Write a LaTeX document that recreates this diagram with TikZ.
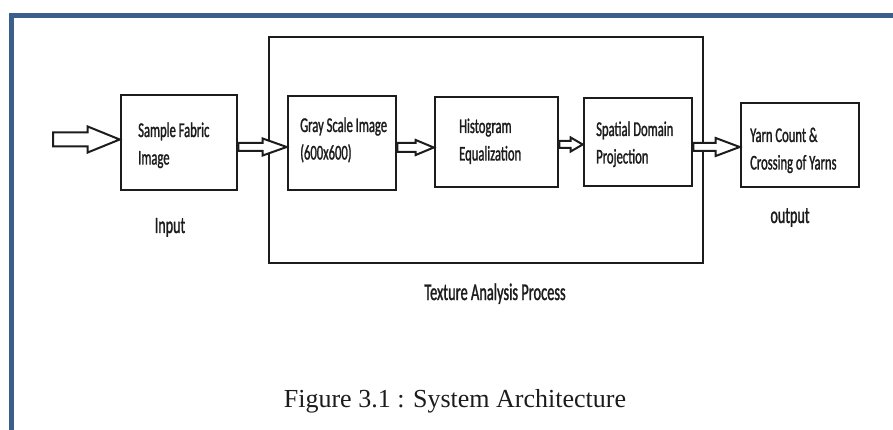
\documentclass[tikz,border=0pt]{standalone}
\usepackage{fontspec}
\setmainfont{Liberation Serif}
\newfontfamily\boxfont[FakeStretch=0.6,FakeBold=1.2]{Carlito}
\usetikzlibrary{calc}
\definecolor{frameblue}{RGB}{59,94,140}
\definecolor{ink}{RGB}{28,28,28}
\newcommand{\harrow}[5]{%
  \draw[harr] let \p1=(#1), \p2=(#2) in
    (\x1,\y1+#3) -- (\x2-#5,\y1+#3) -- (\x2-#5,\y1+#4) -- (\x2,\y1)
    -- (\x2-#5,\y1-#4) -- (\x2-#5,\y1-#3) -- (\x1,\y1-#3) -- cycle;}
\begin{document}
\begin{tikzpicture}[x=1pt,y=-1pt,
  box/.style={draw=ink, line width=2.6pt, fill=white, inner sep=0pt},
  btxt/.style={font=\boxfont\fontsize{21}{27.5}\selectfont, text=ink, inner sep=0pt, anchor=base west},
  lbl/.style={font=\boxfont\fontsize{23.5}{28}\selectfont, text=ink, anchor=base, inner sep=0pt},
  harr/.style={draw=ink, line width=2pt, fill=white, line join=miter},
  frame/.style={draw=frameblue, line width=5pt, line join=miter}]
\useasboundingbox (0,0) rectangle (893,430);
% page frame
\draw[frame] (11,432) -- (11,15.5) -- (895,15.5);
% big process box
\node[draw=ink, line width=2pt, minimum width=434pt, minimum height=226pt, inner sep=0pt] (proc) at (486,150) {};
% boxes
\node[box, minimum width=116pt, minimum height=95pt] (sample) at (179,142.5) {};
\node[box, minimum width=108pt, minimum height=94pt] (gray) at (342,143) {};
\node[box, minimum width=123pt, minimum height=90pt] (hist) at (496.5,142) {};
\node[box, minimum width=108pt, minimum height=88pt] (spat) at (638,142) {};
\node[box, minimum width=118pt, minimum height=84pt] (yarn) at (800,145) {};
% box texts
\node[btxt] (tsample) at (138,137) {\vtop{\hbox{Sample Fabric}\hbox{Image}}};
\node[btxt] (tgray) at (300,132) {\vtop{\hbox{Gray Scale Image}\hbox{(600x600)}}};
\node[btxt] (thist) at (459,133) {\vtop{\hbox{Histogram}\hbox{Equalization}}};
\node[btxt] (tspat) at (596,136) {\vtop{\hbox{Spatial Domain}\hbox{Projection}}};
\node[btxt] (tyarn) at (750,142) {\vtop{\hbox{Yarn Count \&}\hbox{Crossing of Yarns}}};
% labels
\node[lbl] (input) at (170,233) {Input};
\node[lbl] (output) at (790,223) {output};
\node[lbl, font=\boxfont\fontsize{24}{28}\selectfont] (tap) at (495,300) {Texture Analysis Process};
\node[anchor=base, inner sep=0pt, font=\fontsize{26}{30}\selectfont, text=ink] (cap) at (455,407) {Figure 3.1 : System Architecture};
% arrows
\coordinate (in) at (53,139.5);
\harrow{in}{sample.west}{7pt}{13pt}{32pt}
\harrow{[yshift=-4.5pt]sample.east}{gray.west}{4pt}{8.5pt}{24pt}
\harrow{[yshift=-4.5pt]gray.east}{hist.west}{4.5pt}{7.5pt}{18pt}
\harrow{[yshift=-2.5pt]hist.east}{spat.west}{3.5pt}{7pt}{12pt}
\harrow{[yshift=-5pt]spat.east}{yarn.west}{4pt}{9pt}{24pt}
\end{tikzpicture}
\end{document}
